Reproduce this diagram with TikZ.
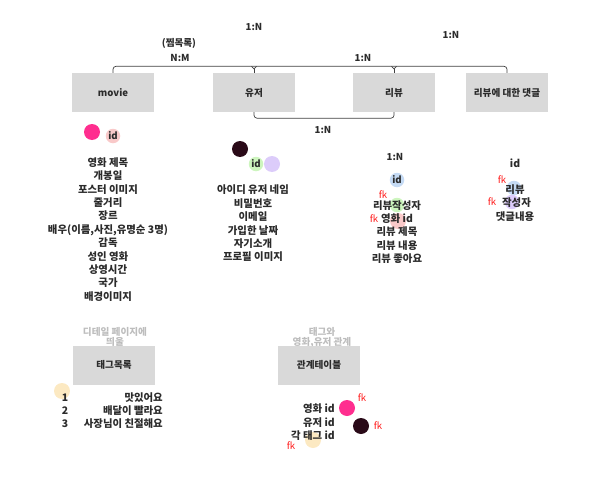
\documentclass[tikz,border=0pt]{standalone}
\usepackage{fontspec}
\setmainfont{Noto Sans CJK KR}
\usetikzlibrary{calc}
\definecolor{boxgray}{HTML}{D9D9D9}
\definecolor{txtc}{HTML}{2B2B2B}
\definecolor{lbl}{HTML}{BDBDBD}
\definecolor{hotpink}{HTML}{FF2E8F}
\definecolor{maroon}{HTML}{2A0A18}
\definecolor{lpink}{HTML}{F9C9C9}
\definecolor{lgreen}{HTML}{CDF5BE}
\definecolor{lav}{HTML}{DCCCFA}
\definecolor{lblue}{HTML}{C4DAF4}
\definecolor{lyellow}{HTML}{FCE9C2}
\definecolor{fkred}{HTML}{FF1A1A}
\begin{document}
\begin{tikzpicture}[x=1pt,y=-1pt,
  every node/.style={inner sep=0pt, text=txtc},
  ebox/.style={fill=boxgray, minimum width=82pt, minimum height=39pt, font=\bfseries\fontsize{9.6}{11}\selectfont},
  attrs/.style={align=center, font=\bfseries\fontsize{10.4}{13.4}\selectfont},
  rel/.style={font=\bfseries\fontsize{9.6}{11}\selectfont},
  fk/.style={text=fkred, font=\fontsize{9.6}{11}\selectfont},
  graylbl/.style={text=lbl, align=center, font=\bfseries\fontsize{9.6}{10}\selectfont},
  conn/.style={draw=black!75, line width=0.7pt},
  dot/.style={circle, minimum size=16pt},
  sdot/.style={circle, minimum size=14.5pt}]
\useasboundingbox (0,0) rectangle (592,487);

% gray labels (behind boxes)
\node[graylbl] (tlbl) at (115,337) {디테일 페이지에\\띄울};
\node[graylbl] (rlbl) at (322,338) {태그와\\영화,유저 관계};

% entity boxes
\node[ebox] (movie) at (113,92.5) {movie};
\node[ebox] (user) at (254,92.5) {유저};
\node[ebox] (review) at (394,92.5) {리뷰};
\node[ebox] (cmt) at (507,92.5) {리뷰에 대한 댓글};
\node[ebox] (tag) at (114,365) {태그목록};
\node[ebox] (reltab) at (319,365) {관계테이블};

% connectors
\draw[conn, rounded corners=3pt] (movie.north) -- ++(0,-6.5) -| (cmt.north);
\draw[conn, rounded corners=3pt] (user.south) -- ++(0,6) -| (review.south);
\foreach \n in {user,review}{
  \draw[conn] ($(\n.north)+(-2.5,-6.5)$) -- ($(\n.north)+(0,-4)$) -- ($(\n.north)+(2.5,-6.5)$);
  \draw[conn] (\n.north) -- ++(0,-4);
}

% relation labels
\node[rel] (r1) at (254,27) {1:N};
\node[rel, align=center] (r2) at (179,43) {(찜목록)};
\node[rel] (r3) at (180,58) {N:M};
\node[rel] (r4) at (363,58) {1:N};
\node[rel] (r5) at (451,35) {1:N};
\node[rel] (r6) at (323,130) {1:N};
\node[rel] (r7) at (395,157) {1:N};

% movie attributes
\node[dot, fill=hotpink] (mpk) at (92,132) {};
\node[sdot, fill=lpink, font=\bfseries\fontsize{9.6}{11}\selectfont] (mid) at (113,136) {id};
\node[attrs] (mattr) at (108,229.5) {영화 제목\\개봉일\\포스터 이미지\\줄거리\\장르\\배우(이름,사진,유명순 3명)\\감독\\성인 영화\\상영시간\\국가\\배경이미지};

% user attributes
\node[dot, fill=maroon] (upk) at (240,149) {};
\node[sdot, fill=lgreen, font=\bfseries\fontsize{9.6}{11}\selectfont] (uid) at (256,164) {id};
\node[dot, fill=lav] (ulav) at (272,164) {};
\node[attrs] (uattr) at (253,223.5) {아이디 유저 네임\\비밀번호\\이메일\\가입한 날짜\\자기소개\\프로필 이미지};

% review attributes
\node[sdot, fill=lblue, font=\bfseries\fontsize{9.6}{11}\selectfont] (rid) at (397,180) {id};
\node[sdot, fill=lgreen] (rg) at (397,205) {};
\node[dot, fill=lpink] (rp) at (398,221) {};
\node[attrs] (rattr) at (397,232) {리뷰작성자\\영화 id\\리뷰 제목\\리뷰 내용\\리뷰 좋아요};
\node[fk] (rfk1) at (383,195) {fk};
\node[fk] (rfk2) at (374,219) {fk};

% comment attributes
\node[attrs] (cid) at (515,163) {id};
\node[sdot, fill=lblue] (cb) at (514,188) {};
\node[sdot, fill=lav] (cl) at (512,202) {};
\node[attrs] (cattr) at (515,203) {리뷰\\\hspace*{3pt}작성자\\댓글내용};
\node[fk] (cfk1) at (502,180) {fk};
\node[fk] (cfk2) at (492,202) {fk};

% tag list
\node[dot, fill=lyellow] (ty) at (62,391) {};
\foreach \i/\t/\y in {1/맛있어요/398, 2/배달이 빨라요/411, 3/사장님이 친절해요/424}{
  \node[attrs] (tn\i) at (65,\y) {\i};
  \node[attrs, anchor=east] (tt\i) at (163,\y) {\t};
}

% relation table
\node[dot, fill=hotpink] (rtp) at (347,408) {};
\node[dot, fill=maroon] (rtm) at (361,426) {};
\node[dot, fill=lyellow] (rty) at (313,440) {};
\node[attrs, align=right, anchor=east] (rtattr) at (335,422.5) {영화 id\\유저 id\\각 태그 id};
\node[fk] (rtfk1) at (362,398) {fk};
\node[fk] (rtfk2) at (378,426) {fk};
\node[fk] (rtfk3) at (291,446) {fk};
\end{tikzpicture}
\end{document}
